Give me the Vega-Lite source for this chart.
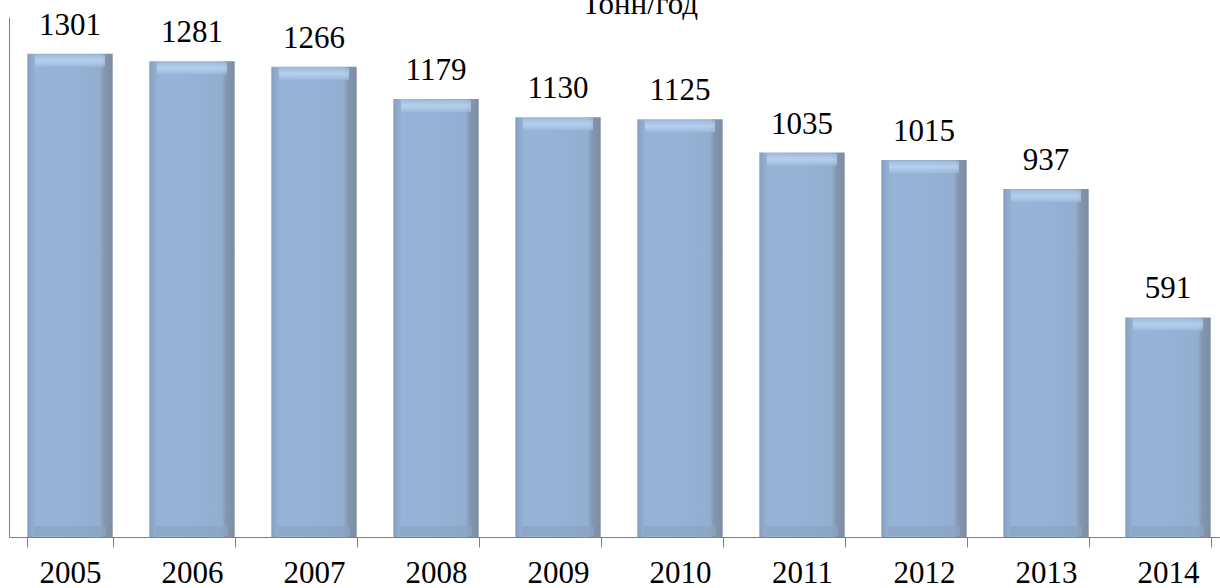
{
  "$schema": "https://vega.github.io/schema/vega-lite/v6.json",
  "autosize": {"type": "none"},
  "width": 1220,
  "height": 520,
  "padding": {"left": 9, "top": 17, "right": 0, "bottom": 51},
  "background": "white",
  "title": {
    "text": "Тонн/год",
    "font": "Times New Roman, Liberation Serif, serif",
    "fontSize": 31,
    "fontWeight": "normal",
    "color": "#000000",
    "anchor": "middle",
    "baseline": "alphabetic",
    "offset": -35,
    "dx": 21
  },
  "config": {
    "view": {"stroke": null},
    "font": "Times New Roman, Liberation Serif, serif"
  },
  "data": {
    "values": [
      {"year": "2005", "value": 1301},
      {"year": "2006", "value": 1281},
      {"year": "2007", "value": 1266},
      {"year": "2008", "value": 1179},
      {"year": "2009", "value": 1130},
      {"year": "2010", "value": 1125},
      {"year": "2011", "value": 1035},
      {"year": "2012", "value": 1015},
      {"year": "2013", "value": 937},
      {"year": "2014", "value": 591}
    ]
  },
  "encoding": {
    "x": {
      "field": "year",
      "type": "ordinal",
      "scale": {"paddingInner": 0.3, "paddingOuter": 0.15},
      "axis": {
        "title": null,
        "labelAngle": 0,
        "labelFont": "Times New Roman, Liberation Serif, serif",
        "labelFontSize": 31,
        "labelColor": "#000000",
        "labelBaseline": "alphabetic",
        "labelPadding": 35,
        "tickBand": "extent",
        "tickSize": 10,
        "tickColor": "#7f7f7f",
        "domainColor": "#7f7f7f",
        "domainWidth": 1,
        "grid": false
      }
    }
  },
  "layer": [
    {
      "mark": {
        "type": "bar",
        "color": {
          "gradient": "linear",
          "x1": 0, "y1": 0, "x2": 1, "y2": 0,
          "stops": [
            {"offset": 0, "color": "#879FC0"},
            {"offset": 0.1, "color": "#96B3D8"},
            {"offset": 0.5, "color": "#95B3D7"},
            {"offset": 0.85, "color": "#92AED1"},
            {"offset": 0.9, "color": "#8497AF"},
            {"offset": 1, "color": "#7C8DA3"}
          ]
        }
      },
      "encoding": {
        "y": {
          "field": "value",
          "type": "quantitative",
          "scale": {"domain": [0, 1400], "nice": false},
          "axis": {
            "title": null,
            "labels": false,
            "ticks": false,
            "grid": false,
            "domainColor": "#7f7f7f",
            "domainWidth": 1
          }
        }
      }
    },
    {
      "mark": {
        "type": "tick",
        "orient": "horizontal",
        "size": 70,
        "thickness": 12,
        "yOffset": 7,
        "color": {
          "gradient": "linear",
          "x1": 0, "y1": 0, "x2": 0, "y2": 1,
          "stops": [
            {"offset": 0, "color": "#A3BFE0"},
            {"offset": 0.5, "color": "#C4DCF6"},
            {"offset": 1, "color": "#9FBBDE"}
          ]
        }
      },
      "encoding": {
        "y": {"field": "value", "type": "quantitative"}
      }
    },
    {
      "mark": {
        "type": "tick",
        "orient": "horizontal",
        "size": 72,
        "thickness": 10,
        "yOffset": -6,
        "color": "#8CA3C2"
      },
      "encoding": {
        "y": {"datum": 0}
      }
    },
    {
      "mark": {
        "type": "text",
        "baseline": "alphabetic",
        "align": "center",
        "dy": -19,
        "font": "Times New Roman, Liberation Serif, serif",
        "fontSize": 31,
        "color": "#000000"
      },
      "encoding": {
        "y": {"field": "value", "type": "quantitative"},
        "text": {"field": "value", "type": "quantitative", "format": "d"}
      }
    }
  ]
}
